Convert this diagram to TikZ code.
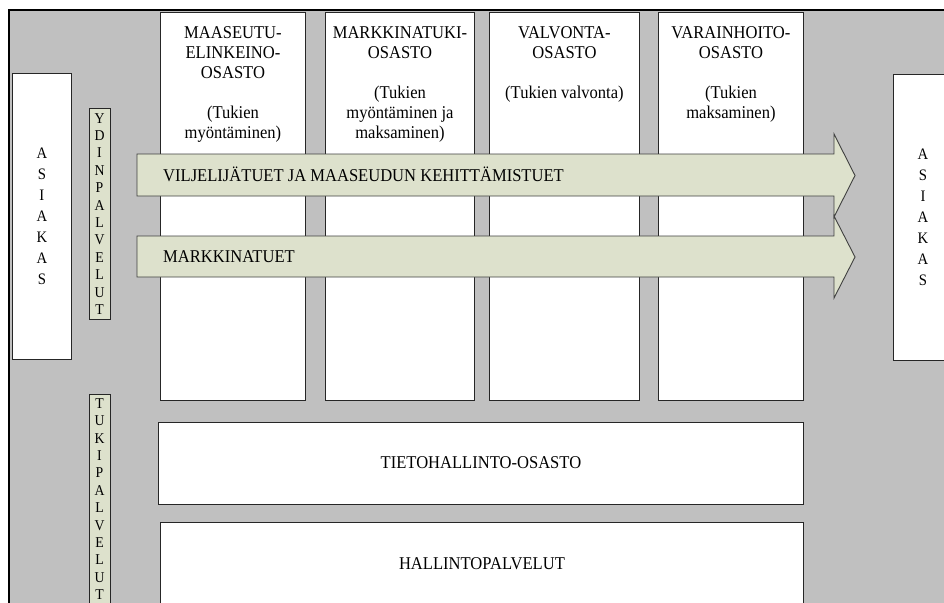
\documentclass[tikz,border=0pt]{standalone}
\usepackage{fontspec}
\setmainfont{Liberation Serif}[FakeStretch=0.92]
\usetikzlibrary{positioning}

\definecolor{taustaharmaa}{RGB}{192,192,192}
\definecolor{nuolivihrea}{RGB}{221,225,204}

\begin{document}
\begin{tikzpicture}[x=1pt,y=-1pt]
            \tikzset{
              laatikko/.style={draw=black!85,line width=0.9pt,fill=white,inner sep=0pt,align=center,font=\fontsize{18}{20}\selectfont},
              osasto/.style={laatikko,minimum width=145pt,minimum height=388pt,anchor=north west},
              osastoteksti/.style={inner sep=0pt,align=center,font=\fontsize{18}{20}\selectfont},
              asiakasbox/.style={laatikko,minimum width=59pt,minimum height=286pt,anchor=north west,font=\fontsize{16}{21}\selectfont},
              palkki/.style={draw=black!85,line width=0.9pt,fill=nuolivihrea,align=center,inner xsep=0pt,inner ysep=4pt,minimum width=21pt,anchor=north,font=\fontsize{15}{17.4}\selectfont},
              nuoli/.style={draw=black!75,line width=0.9pt,fill=nuolivihrea},
              nuoliteksti/.style={anchor=base west,inner sep=0pt,font=\fontsize{18}{20}\selectfont},
              vaakalaatikko/.style={laatikko,minimum width=645pt,minimum height=82pt,anchor=north west}
            };

            \useasboundingbox (0,0) rectangle (944,602);
            \clip (0,0) rectangle (944,602);
            \fill[taustaharmaa] (9,10) rectangle (960,620);
            \draw[line width=2.5pt] (9,620) -- (9,10) -- (960,10);

            \node[asiakasbox] (asiakasV) at (12,73) {A\\S\\I\\A\\K\\A\\S};
            \node[asiakasbox] (asiakasO) at (893,74) {A\\S\\I\\A\\K\\A\\S};

            \node[osasto] (maaseutu) at (160,12) {};
            \node[osasto,minimum width=149pt] (markkina) at (325,12) {};
            \node[osasto,minimum width=150pt] (valvonta) at (489,12) {};
            \node[osasto] (varainhoito) at (658,12) {};

            \node[osastoteksti,below=14pt of maaseutu.north] (maaseutuT)
              {MAASEUTU-\\ELINKEINO-\\OSASTO\\[20pt](Tukien\\myöntäminen)};
            \node[osastoteksti,below=14pt of markkina.north] (markkinaT)
              {MARKKINATUKI-\\OSASTO\\[20pt](Tukien\\myöntäminen ja\\maksaminen)};
            \node[osastoteksti,below=14pt of valvonta.north] (valvontaT)
              {VALVONTA-\\OSASTO\\[20pt](Tukien valvonta)};
            \node[osastoteksti,below=14pt of varainhoito.north] (varainhoitoT)
              {VARAINHOITO-\\OSASTO\\[20pt](Tukien\\maksaminen)};

            \draw[nuoli] (137,154) -- (834,154) -- (834,134) -- (855,175.5)
              -- (834,217) -- (834,196) -- (137,196) -- cycle;
            \draw[nuoli] (137,236) -- (834,236) -- (834,216) -- (855,257)
              -- (834,298) -- (834,277) -- (137,277) -- cycle;
            \node[nuoliteksti] (viljelijatuet) at (163,181.4) {VILJELIJÄTUET JA MAASEUDUN KEHITTÄMISTUET};
            \node[nuoliteksti] (markkinatuet) at (163,262.4) {MARKKINATUET};

            \node[palkki,minimum height=211pt] (ydin) at (99.5,108) {Y\\D\\I\\N\\P\\A\\L\\V\\E\\L\\U\\T};
            \node[palkki] (tuki) at (99.5,394) {T\\U\\K\\I\\P\\A\\L\\V\\E\\L\\U\\T};

            \node[vaakalaatikko] (tietohallinto) at (158,421.5) {TIETOHALLINTO-OSASTO};
            \node[vaakalaatikko,minimum width=643pt] (hallintopalvelut) at (160,522) {HALLINTOPALVELUT};
\end{tikzpicture}
\end{document}
